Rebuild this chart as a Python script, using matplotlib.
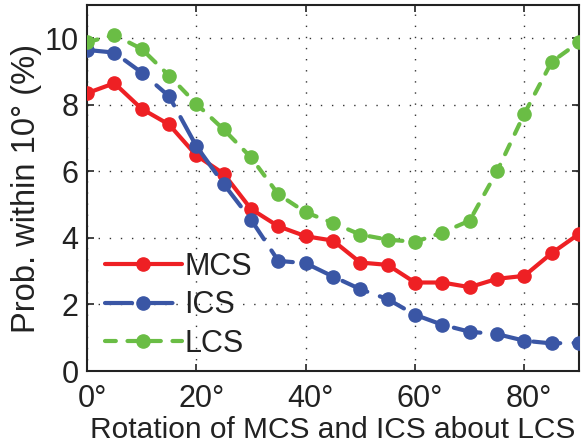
import matplotlib
matplotlib.use("Agg")
import matplotlib.pyplot as plt
import matplotlib.transforms as mtransforms
import numpy as np

plt.rcParams['font.family'] = ['Liberation Sans', 'DejaVu Sans']

angles = np.arange(0, 91, 5)
mcs = [8.35, 8.65, 7.88, 7.41, 6.48, 5.93, 4.87, 4.35, 4.05, 3.92,
       3.26, 3.19, 2.66, 2.66, 2.52, 2.77, 2.86, 3.54, 4.12]
ics = [9.65, 9.57, 8.97, 8.26, 6.76, 5.62, 4.55, 3.31, 3.24, 2.84,
       2.46, 2.16, 1.69, 1.39, 1.18, 1.11, 0.91, 0.83, 0.85]
lcs = [9.88, 10.1, 9.68, 8.88, 8.03, 7.26, 6.42, 5.31, 4.77, 4.45,
       4.10, 3.95, 3.88, 4.16, 4.52, 6.0, 7.73, 9.29, 9.88]
xticks = [0, 20, 40, 60, 80]
yticks = [0, 2, 4, 6, 8, 10]

fig = plt.figure(figsize=(5.82, 4.44), dpi=100)
ax = fig.add_axes([0.1495, 0.1644, 0.8453, 0.8243])

ax.plot(angles, mcs, color='#ee2024', lw=3, marker='o', ms=9.5,
        solid_capstyle='round', label='MCS', zorder=3)
ax.plot(angles, ics, color='#3a56a5', lw=3, marker='o', ms=9.5,
        dashes=(6.5, 3.2), dash_capstyle='round', label='ICS', zorder=3)
ax.plot(angles, lcs, color='#6abd45', lw=3, marker='o', ms=9.5,
        dashes=(2.6, 2.8), dash_capstyle='round', label='LCS', zorder=3)

ax.set_xlim(0, 90)
ax.set_ylim(0, 11)
ax.set_xticks(xticks)
ax.set_xticklabels([f"{t}°" for t in xticks])
ax.set_yticks(yticks)
ax.grid(True, linestyle=(0, (1, 7)), color='#333333', lw=1.0)
ax.tick_params(direction='in', top=True, right=True, labelsize=22,
               length=5, width=1.2, colors='#222222')
ax.tick_params(axis='x', pad=9)
ax.tick_params(axis='y', pad=6)
for s in ax.spines.values():
    s.set_linewidth(1.5)
    s.set_color('#222222')

# nudge the degree labels a little to the right of their ticks
shift = mtransforms.ScaledTranslation(0.05, 0, fig.dpi_scale_trans)
for lab in ax.get_xticklabels():
    lab.set_transform(lab.get_transform() + shift)

ax.set_xlabel('Rotation of MCS and ICS about LCS', fontsize=21.5,
              labelpad=2, color='#222222')
ax.set_ylabel('Prob. within 10° (%)', fontsize=23.5, labelpad=2,
              color='#222222')

leg = ax.legend(loc='lower left', frameon=False, fontsize=22,
                handlelength=2.5, handletextpad=0.1, labelspacing=0.28,
                borderaxespad=0.0, bbox_to_anchor=(0.012, 0.0))
for t in leg.get_texts():
    t.set_color('#222222')

fig.savefig('out.png', dpi=100)
